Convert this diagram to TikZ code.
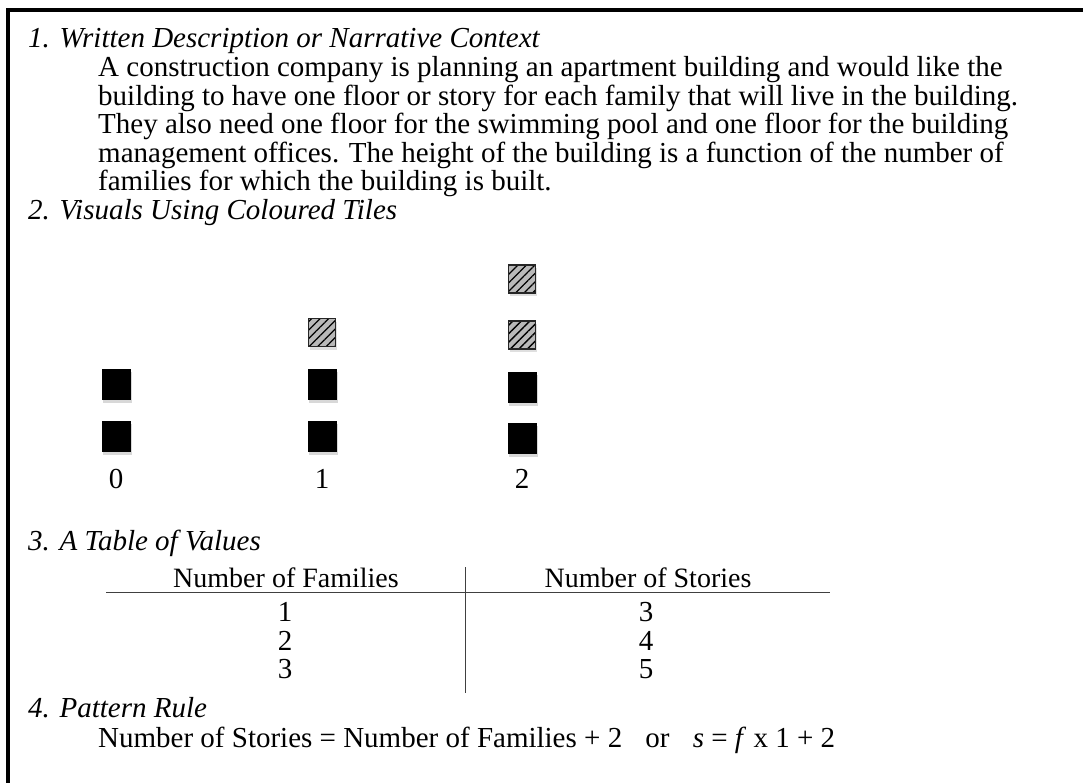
\documentclass[tikz,border=0pt]{standalone}
\usepackage{fontspec}
\setmainfont{Liberation Serif}
\usetikzlibrary{shadows,patterns.meta}
\begin{document}
\begin{tikzpicture}[x=1pt,y=-1pt,
  txt/.style={anchor=base west,inner sep=0pt,font=\fontsize{29}{28}\selectfont},
  ctr/.style={anchor=base,inner sep=0pt,font=\fontsize{29}{28}\selectfont},
  head/.style={txt,font=\fontsize{29}{28}\selectfont\itshape},
  tile/.style={draw=none,fill=black,minimum width=29pt,minimum height=31pt,inner sep=0pt,
    drop shadow={shadow xshift=1pt,shadow yshift=-3pt,opacity=0.3}},
  htile/.style={draw=black!85,line width=1.5pt,minimum width=27pt,minimum height=28pt,inner sep=0pt,
    preaction={fill=gray!55,drop shadow={shadow xshift=1pt,shadow yshift=-3pt,opacity=0.25}},
    pattern={Lines[angle=45,distance=6pt,line width=1.3pt]}},
  frame/.style={line width=3.5pt},
  rule/.style={line width=0.8pt,black!75}]
\useasboundingbox (0,0) rectangle (1083,783);
\fill[white] (0,0) rectangle (1083,783);
\draw[frame] (8,790) -- (8,10) -- (1090,10);

\node[head] (h1) at (28,48) {1. Written Description or Narrative Context};
\node[txt] (p1) at (98,77) {A construction company is planning an apartment building and would like the};
\node[txt] (p2) at (98,105.5) {building to have one floor or story for each family that will live in the building.};
\node[txt] (p3) at (98,134) {They also need one floor for the swimming pool and one floor for the building};
\node[txt] (p4) at (98,162.5) {management offices. The height of the building is a function of the number of};
\node[txt] (p5) at (98,191) {families for which the building is built.};
\node[head] (h2) at (28,219.5) {2. Visuals Using Coloured Tiles};

% column 0
\node[tile] (a1) at (116.5,384.5) {};
\node[tile] (a0) at (116.5,436) {};
% column 1
\node[htile] (b2) at (322,332.5) {};
\node[tile] (b1) at (322,384.5) {};
\node[tile] (b0) at (322,436) {};
% column 2
\node[htile] (c3) at (522,279) {};
\node[htile] (c2) at (522,335) {};
\node[tile] (c1) at (522,387) {};
\node[tile] (c0) at (522,438) {};

\node[ctr] (l0) at (116,488) {0};
\node[ctr] (l1) at (322,488) {1};
\node[ctr] (l2) at (522,488) {2};

\node[head] (h3) at (28,550) {3. A Table of Values};
\node[ctr,font=\fontsize{28}{28}\selectfont] (t1) at (286,587) {Number of Families};
\node[ctr,font=\fontsize{28}{28}\selectfont] (t2) at (648,587) {Number of Stories};
\coordinate (hl) at (106,592);
\coordinate (hr) at (830,592);
\draw[rule] (hl) -- (hr);
\coordinate (vt) at (465,567);
\coordinate (vb) at (465,693);
\draw[rule] (vt) -- (vb);
\node[ctr] (r1a) at (285,621) {1};
\node[ctr] (r1b) at (646,621) {3};
\node[ctr] (r2a) at (285,650) {2};
\node[ctr] (r2b) at (646,650) {4};
\node[ctr] (r3a) at (285,678.5) {3};
\node[ctr] (r3b) at (646,678.5) {5};

\node[head] (h4) at (28,717) {4. Pattern Rule};
\node[txt] (pr) at (98,747) {Number of Stories = Number of Families + 2\hspace{0.8em}or\hspace{0.8em}\textit{s} = \textit{f} x 1 + 2};
\end{tikzpicture}
\end{document}
